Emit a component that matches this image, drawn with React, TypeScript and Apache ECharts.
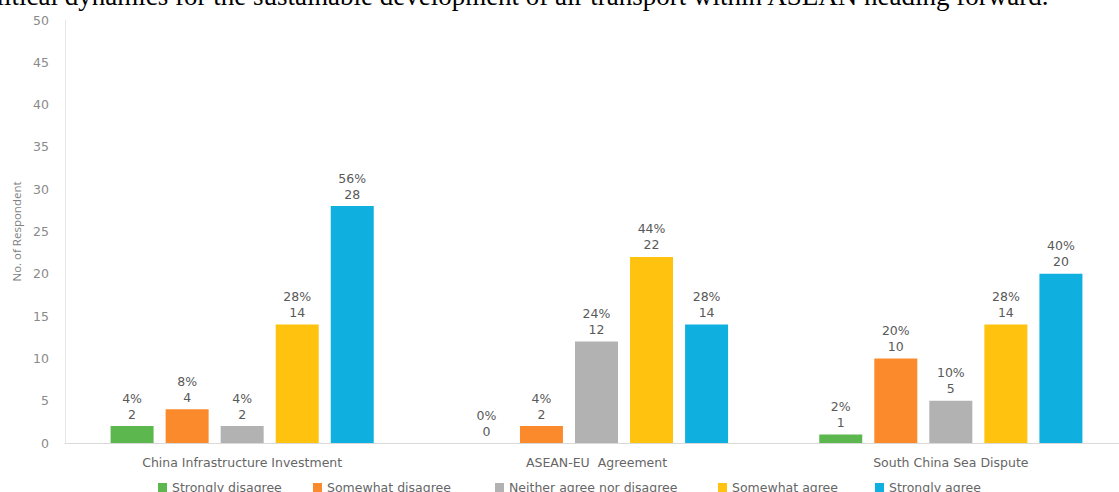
import React, { useEffect, useRef } from "react";
import * as echarts from "echarts";

const headerText =
  "political dynamics for the sustainable development of air transport within ASEAN heading forward.";
const categories = ["China Infrastructure Investment", "ASEAN-EU  Agreement", "South China Sea Dispute"];
const seriesNames = [
  "Strongly disagree",
  "Somewhat disagree",
  "Neither agree nor disagree",
  "Somewhat agree",
  "Strongly agree",
];
const stronglyDisagree = [2, 0, 1];
const somewhatDisagree = [4, 2, 10];
const neither = [2, 12, 5];
const somewhatAgree = [14, 22, 14];
const stronglyAgree = [28, 14, 20];
const pctStronglyDisagree = [4, 0, 2];
const pctSomewhatDisagree = [8, 4, 20];
const pctNeither = [4, 24, 10];
const pctSomewhatAgree = [28, 44, 28];
const pctStronglyAgree = [56, 28, 40];
const colors = ["#5cb84e", "#fb8a2c", "#b2b2b2", "#ffc20e", "#0fb0e0"];
const legendLefts = [153, 308, 490, 713, 870];

const values = [stronglyDisagree, somewhatDisagree, neither, somewhatAgree, stronglyAgree];
const pcts = [pctStronglyDisagree, pctSomewhatDisagree, pctNeither, pctSomewhatAgree, pctStronglyAgree];

const FONT = "DejaVu Sans";
const CHART_W = 1128;

export default function App() {
  const ref = useRef<HTMLDivElement>(null);
  useEffect(() => {
    if (!ref.current) return;
    const chart = echarts.init(ref.current, null, { renderer: "svg" });
    chart.setOption({
      animation: false,
      backgroundColor: "#ffffff",
      graphic: [
        {
          type: "text",
          right: CHART_W - 1050,
          top: -18,
          style: {
            text: headerText,
            font: "27px 'Liberation Serif'",
            fill: "#000000",
          },
        },
      ],
      legend: seriesNames.map((name, i) => ({
        left: legendLefts[i],
        top: 476,
        itemWidth: 9,
        itemHeight: 9,
        icon: "rect",
        textStyle: { fontFamily: FONT, fontSize: 12.5, color: "#666666" },
        data: [name],
      })),
      grid: { left: 65, right: 0, top: 20, bottom: 49, containLabel: false },
      xAxis: {
        type: "category",
        data: categories,
        axisLine: { lineStyle: { color: "#d9d9d9" } },
        axisTick: { show: false },
        axisLabel: { margin: 13, fontFamily: FONT, fontSize: 12.5, color: "#666666" },
      },
      yAxis: {
        type: "value",
        min: 0,
        max: 50,
        interval: 5,
        name: "No. of Respondent",
        nameLocation: "middle",
        nameGap: 42,
        nameTextStyle: { fontFamily: "Open Sans", fontSize: 11.5, color: "#7f7f7f" },
        axisLine: { show: true, lineStyle: { color: "#e6e6e6" } },
        axisTick: { show: false },
        splitLine: { show: false },
        axisLabel: { margin: 16, fontFamily: FONT, fontSize: 12.5, color: "#8a8a8a" },
      },
      series: seriesNames.map((name, i) => ({
        name,
        type: "bar",
        data: values[i],
        barWidth: 43,
        barGap: "28%",
        itemStyle: { color: colors[i] },
        label: {
          show: true,
          position: "top",
          distance: 4,
          fontFamily: FONT,
          fontSize: 12.5,
          lineHeight: 16,
          color: "#595959",
          formatter: (p: any) => `${pcts[i][p.dataIndex]}%\n${p.value}`,
        },
      })),
    });
    return () => chart.dispose();
  }, []);
  return (
    <div style={{ position: "absolute", left: 0, top: 0, width: 1119, height: 492, overflow: "hidden" }}>
      <div ref={ref} style={{ width: CHART_W, height: 492 }} />
    </div>
  );
}
